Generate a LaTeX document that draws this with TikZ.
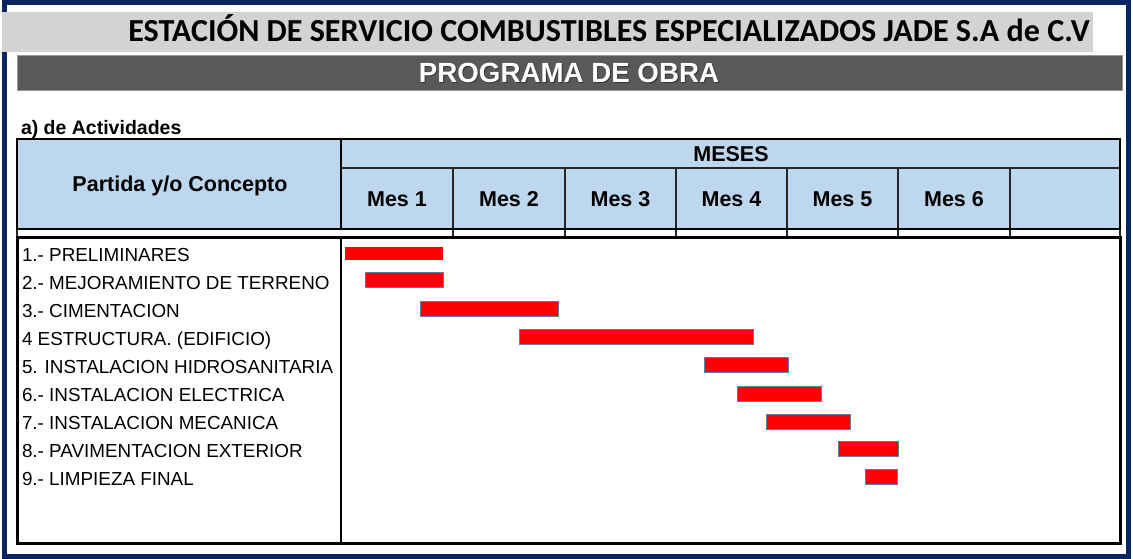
\documentclass[tikz,border=0pt]{standalone}
\usepackage{fontspec}
\setmainfont{Liberation Sans}
\newfontfamily\calib{Carlito}
\definecolor{navy}{HTML}{0A2462}
\definecolor{bandlight}{HTML}{D3D3D3}
\definecolor{banddark}{HTML}{595959}
\definecolor{hdrblue}{HTML}{BDD7EE}
\definecolor{barred}{HTML}{FF0000}
\definecolor{barline}{HTML}{5B7FA6}
\begin{document}
\begin{tikzpicture}[x=1pt,y=-1pt,
  txt/.style={inner sep=0pt, outer sep=0pt},
  rowlabel/.style={txt, anchor=base west, font=\fontsize{18.85}{22}\selectfont},
  hdrlabel/.style={txt, anchor=base, font=\bfseries\fontsize{21.5}{25}\selectfont},
  bar/.style={draw=barline, line width=1pt, fill=barred, anchor=north west, inner sep=0pt, outer sep=0pt},
  thickline/.style={line width=2.6pt, black},
  thinline/.style={line width=1.2pt, black!85}]
\useasboundingbox (0,0) rectangle (1133,559);
\fill[white] (0,0) rectangle (1133,559);
% outer navy frame
\draw[navy, line width=5pt] (4.5,2.5) rectangle (1128.5,556.5);
% title band
\fill[bandlight] (2,12) rectangle (1093,52);
\node[txt, anchor=base, font=\calib\bfseries\fontsize{32.1}{38}\selectfont] (title) at (609,42)
  {ESTACIÓN DE SERVICIO COMBUSTIBLES ESPECIALIZADOS JADE S.A de C.V};
% dark band
\fill[banddark, draw=black!40, line width=0.8pt] (17,55) rectangle (1122,90);
\node[txt, anchor=base, text=black!80, font=\bfseries\fontsize{27.7}{32}\selectfont] (progshadow) at (570,84)
  {PROGRAMA DE OBRA};
\node[txt, anchor=base, text=white, font=\bfseries\fontsize{27.7}{32}\selectfont] (prog) at (569,83)
  {PROGRAMA DE OBRA};
% subtitle
\node[txt, anchor=base west, font=\bfseries\fontsize{19.5}{23}\selectfont] (sub) at (21,135) {a) de Actividades};
% header
\fill[hdrblue] (17,139) rectangle (1120,229);
\draw[thinline] (341,168) -- (1120,168);
\foreach \xx in {453,565,676,787,898,1010} {
  \draw[thinline] (\xx,168) -- (\xx,237);
}
\draw[thinline] (17,229) -- (17,237);
\draw[thinline] (1120,229) -- (1120,237);
\draw[thickline] (341,139) -- (341,229);
\draw[thickline] (17,139) rectangle (1120,229);
\node[hdrlabel] (partida) at (180,192) {Partida y/o Concepto};
\node[hdrlabel] (meses) at (731,162) {MESES};
\node[hdrlabel] (m1) at (397,207) {Mes 1};
\node[hdrlabel] (m2) at (509,207) {Mes 2};
\node[hdrlabel] (m3) at (620.5,207) {Mes 3};
\node[hdrlabel] (m4) at (731.5,207) {Mes 4};
\node[hdrlabel] (m5) at (842.5,207) {Mes 5};
\node[hdrlabel] (m6) at (954,207) {Mes 6};
% body
\draw[line width=3pt, black] (17,237) rectangle (1120,543);
\draw[line width=2.2pt, black] (341,237) -- (341,543);
% row labels
\node[rowlabel] (r1) at (22,261.0) {1.- PRELIMINARES};
\node[rowlabel] (r2) at (22,289.1) {2.- MEJORAMIENTO DE TERRENO};
\node[rowlabel] (r3) at (22,317.2) {3.- CIMENTACION};
\node[rowlabel] (r4) at (22,345.3) {4 ESTRUCTURA. (EDIFICIO)};
\node[rowlabel] (r5) at (22,373.4) {5. INSTALACION HIDROSANITARIA};
\node[rowlabel] (r6) at (22,401.5) {6.- INSTALACION ELECTRICA};
\node[rowlabel] (r7) at (22,429.6) {7.- INSTALACION MECANICA};
\node[rowlabel] (r8) at (22,457.7) {8.- PAVIMENTACION EXTERIOR};
\node[rowlabel] (r9) at (22,485.8) {9.- LIMPIEZA FINAL};
% bars
\node[bar, draw=white, minimum width=99pt, minimum height=14pt] (b1) at (344,246) {};
\node[bar, minimum width=78pt, minimum height=15pt] (b2) at (365,272) {};
\node[bar, minimum width=138pt, minimum height=15pt] (b3) at (420,301) {};
\node[bar, minimum width=234pt, minimum height=15pt] (b4) at (519,329) {};
\node[bar, minimum width=84pt, minimum height=15pt] (b5) at (704,357) {};
\node[bar, minimum width=84pt, minimum height=15pt] (b6) at (737,386) {};
\node[bar, minimum width=84pt, minimum height=15pt] (b7) at (766,414) {};
\node[bar, minimum width=60pt, minimum height=15pt] (b8) at (838,441) {};
\node[bar, minimum width=32pt, minimum height=15pt] (b9) at (865,469) {};
\end{tikzpicture}
\end{document}
